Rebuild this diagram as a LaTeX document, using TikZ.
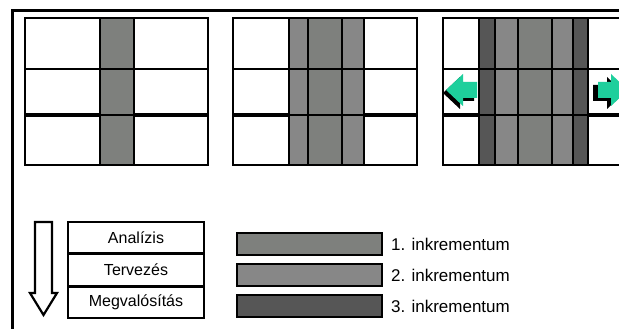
\documentclass[tikz,border=0pt]{standalone}
\usepackage{fontspec}
\setmainfont{Liberation Sans}
\usepackage{tikz}
\usetikzlibrary{positioning, calc}
\definecolor{incOne}{HTML}{7E807D}
\definecolor{incTwo}{HTML}{878787}
\definecolor{incThree}{HTML}{565656}
\definecolor{arrGreen}{HTML}{1ECF9C}

\begin{document}
\begin{tikzpicture}[x=1pt, y=-1pt,
    cell/.style={draw=black, line width=1.6pt},
    cut/.style={draw=black, line width=3.2pt},
    phase/.style={rectangle, draw=black, line width=1.5pt, minimum width=136pt, minimum height=31pt,
      inner sep=0pt, font=\fontsize{16}{18}\selectfont},
    bar/.style={rectangle, draw=black, line width=1.8pt, minimum width=145pt, minimum height=22pt, inner sep=0pt},
    lbl/.style={right=8pt, font=\fontsize{17}{19}\selectfont, inner sep=0pt}
  ]
  \useasboundingbox (0,0) rectangle (619,329);
  \clip (0,0) rectangle (619,329);
  \fill[white] (0,0) rectangle (619,329);

  % frame
  \draw[line width=3pt] (12,329) -- (12,10.5) -- (625,10.5);

  % panel 1
  \begin{scope}[xshift=25]
    \fill[incOne] (75,18) rectangle (109,165);
    \draw[cell] (0,18) rectangle (183,165);
    \foreach \x in {75,109} \draw[cell] (\x,18) -- (\x,165);
    \draw[cell] (0,69) -- (183,69);
    \draw[cell] (0,115) -- (183,115);
    \draw[cut] (0,115) -- (75,115);
    \draw[cut] (109,115) -- (183,115);
  \end{scope}

  % panel 2
  \begin{scope}[xshift=233]
    \fill[incTwo] (56,18) rectangle (131,165);
    \fill[incOne] (75,18) rectangle (109,165);
    \draw[cell] (0,18) rectangle (184,165);
    \foreach \x in {56,75,109,131} \draw[cell] (\x,18) -- (\x,165);
    \draw[cell] (0,69) -- (184,69);
    \draw[cell] (0,115) -- (184,115);
    \draw[cut] (0,115) -- (56,115);
    \draw[cut] (131,115) -- (184,115);
  \end{scope}

  % panel 3
  \begin{scope}[xshift=443]
    \fill[incThree] (36,18) rectangle (145,165);
    \fill[incTwo] (52,18) rectangle (130,165);
    \fill[incOne] (75,18) rectangle (109,165);
    \draw[cell] (0,18) rectangle (184,165);
    \foreach \x in {36,52,75,109,130,145} \draw[cell] (\x,18) -- (\x,165);
    \draw[cell] (0,69) -- (184,69);
    \draw[cell] (0,115) -- (184,115);
    \draw[cut] (0,115) -- (36,115);
    \draw[cut] (145,115) -- (184,115);
  \end{scope}

  % growth arrows
  \fill[black] (443,93) -- (460,77) -- (460,85) -- (474,85) -- (474,101) -- (460,101) -- (460,109) -- cycle;
  \fill[arrGreen] (446,90) -- (463,74) -- (463,82) -- (477,82) -- (477,98) -- (463,98) -- (463,106) -- cycle;
  \fill[black] (593,85) -- (607,85) -- (607,77) -- (624,93) -- (607,109) -- (607,101) -- (593,101) -- cycle;
  \fill[arrGreen] (598,82) -- (611,82) -- (611,74) -- (628,90) -- (611,106) -- (611,98) -- (598,98) -- cycle;

  % phases
  \node[phase] (ana) at (136,237.5) {Analízis};
  \node[phase, below=0pt of ana] (ter) {Tervezés};
  \node[phase, below=0pt of ter] (meg) {Megvalósítás};
  \draw[cut] (ana.south west) -- (ana.south east);
  \draw[cut] (ter.south west) -- (ter.south east);

  % time arrow
  \draw[line width=2.2pt, fill=white, line join=miter]
    (35,222) -- (52,222) -- (52,293) -- (57,293) -- (43.5,315) -- (30,293) -- (35,293) -- cycle;

  % legend
  \foreach \i/\c/\y in {1/incOne/244, 2/incTwo/275, 3/incThree/306} {
    \node[bar, fill=\c] (b\i) at (309.5,\y) {};
    \node[lbl, right=8pt of b\i] (l\i) {\i. inkrementum};
  }
\end{tikzpicture}
\end{document}
